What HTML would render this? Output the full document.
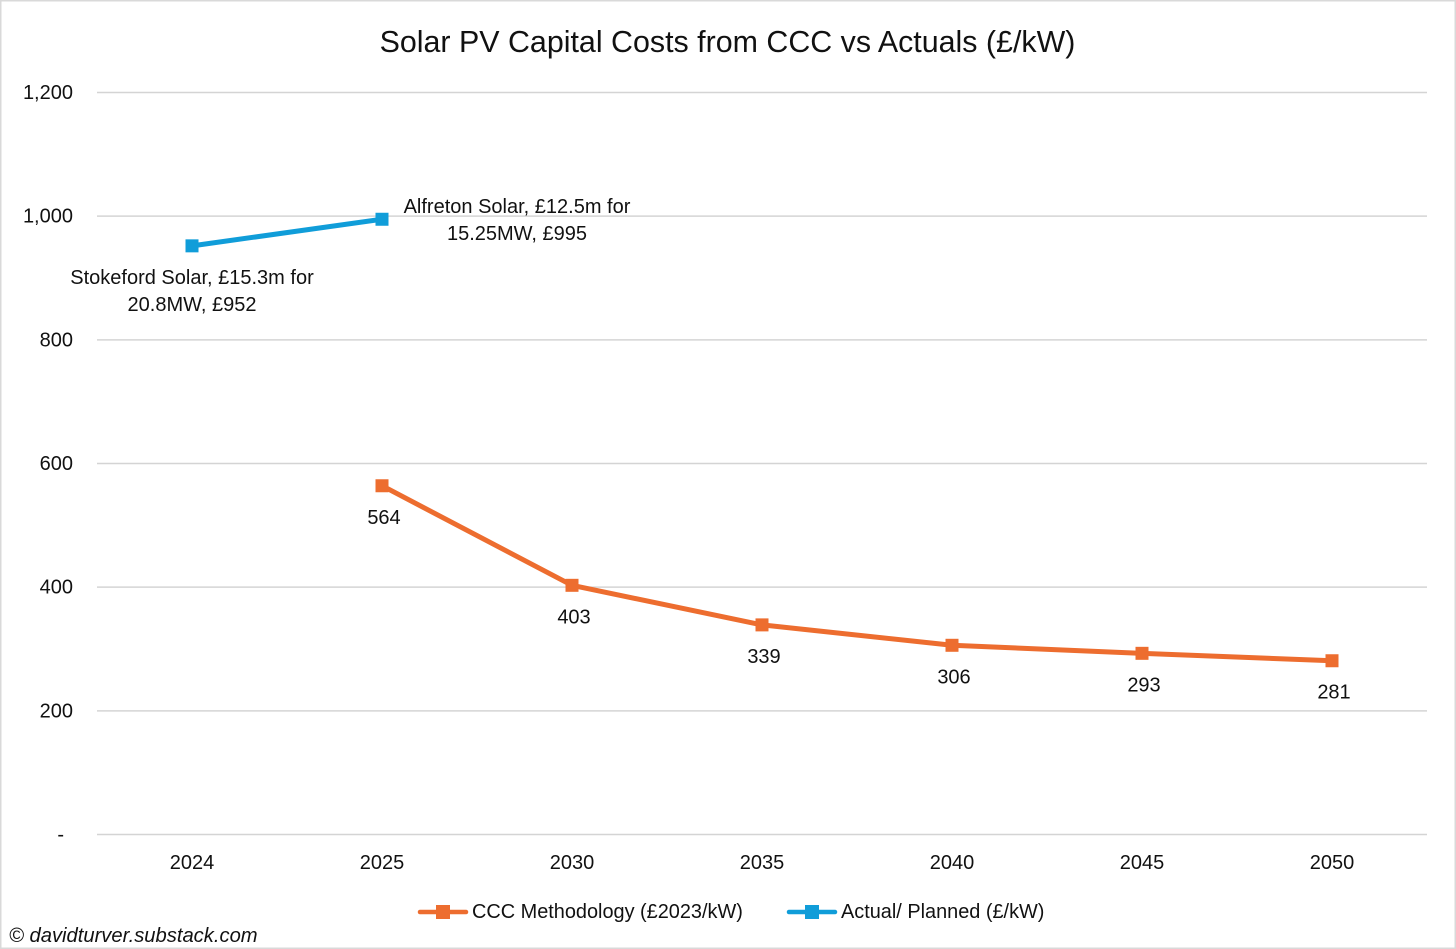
<!DOCTYPE html>
<html lang="en">
<head>
<meta charset="utf-8">
<title>Solar PV Capital Costs from CCC vs Actuals</title>
<style>
html,body{margin:0;padding:0;background:#fff}
#chart{display:block;position:absolute;left:0;top:0}
text{font-family:"Liberation Sans",sans-serif;fill:#111}
</style>
</head>
<body>
<svg id="chart" xmlns="http://www.w3.org/2000/svg" width="1456" height="949" viewBox="0 0 1456 949">
<rect x="0.75" y="0.75" width="1454.5" height="947.5" fill="#fff" stroke="#d9d9d9" stroke-width="1.5"/>
<text x="727.5" y="52" text-anchor="middle" font-size="30.4">Solar PV Capital Costs from CCC vs Actuals (£/kW)</text>
<g id="grid"></g>
<g id="xaxis"></g>
<g id="series"></g>
<g id="labels"></g>
<g>
<g>
<line x1="420" x2="466" y1="912" y2="912" stroke="#ED6D2F" stroke-width="4.5" stroke-linecap="round"/>
<rect x="436" y="905" width="14" height="14" fill="#ED6D2F"/>
<text x="472" y="918" font-size="19.9">CCC Methodology (£2023/kW)</text>
</g>
<g>
<line x1="789" x2="835" y1="912" y2="912" stroke="#109DD9" stroke-width="4.5" stroke-linecap="round"/>
<rect x="805" y="905" width="14" height="14" fill="#109DD9"/>
<text x="841" y="918" font-size="19.9">Actual/ Planned (£/kW)</text>
</g>
</g>
<text x="9" y="942" font-size="20.2" font-style="italic">© davidturver.substack.com</text>
</svg>
<script>
const categories = ['2024', '2025', '2030', '2035', '2040', '2045', '2050'];
const cccValues = [null, 564, 403, 339, 306, 293, 281];
const actualValues = [952, 995, null, null, null, null, null];
const yTicks = [0, 200, 400, 600, 800, 1000, 1200];
const yTickLabels = ['-', '200', '400', '600', '800', '1,000', '1,200'];
const actualLabels = [['Stokeford Solar, £15.3m for', '20.8MW, £952'], ['Alfreton Solar, £12.5m for', '15.25MW, £995']];

const NS = 'http://www.w3.org/2000/svg';
const plotLeft = 97, plotRight = 1427, plotTop = 92.5, plotBottom = 834.5, yMax = 1200;
const x = i => plotLeft + (i + 0.5) * (plotRight - plotLeft) / categories.length;
const y = v => plotBottom - v / yMax * (plotBottom - plotTop);
function make(tag, attrs, parent, content) {
  const el = document.createElementNS(NS, tag);
  for (const k in attrs) el.setAttribute(k, attrs[k]);
  if (content !== undefined) el.textContent = content;
  parent.appendChild(el);
  return el;
}
const grid = document.getElementById('grid');
const xaxis = document.getElementById('xaxis');
const seriesGroup = document.getElementById('series');
const labels = document.getElementById('labels');

yTicks.forEach((t, i) => {
  const line = make('line', {x1: plotLeft, x2: plotRight, y1: y(t), y2: y(t), stroke: '#d4d4d4', 'stroke-width': 1.5}, grid);
  
  
  const labelX = t === 0 ? 64 : 73;
  const label = make('text', {x: labelX, y: y(t) + 6.5, 'text-anchor': 'end', 'font-size': 20}, grid, yTickLabels[i]);
  
  
});
categories.forEach((c, i) => {
  const label = make('text', {x: x(i), y: 869, 'text-anchor': 'middle', 'font-size': 20}, xaxis, c);
  
  
});
function drawSeries(values, color, name) {
  const pts = [];
  values.forEach((v, i) => { if (v !== null) pts.push([x(i), y(v)]); });
  const line = make('polyline', {points: pts.map(p => p.join(',')).join(' '), fill: 'none', stroke: color, 'stroke-width': 5, 'stroke-linejoin': 'round'}, seriesGroup);
  
  
  pts.forEach(p => {
    const m = make('rect', {x: p[0] - 6.5, y: p[1] - 6.5, width: 13, height: 13, fill: color}, seriesGroup);
    
    
  });
}
drawSeries(cccValues, '#ED6D2F', 'ccc-series');
drawSeries(actualValues, '#109DD9', 'actual-series');

cccValues.forEach((v, i) => {
  if (v === null) return;
  const label = make('text', {x: x(i) + 2, y: y(v) + 38, 'text-anchor': 'middle', 'font-size': 20}, labels, String(v));
  
  
});
actualLabels.forEach((lines, i) => {
  const cx = i === 0 ? x(0) : x(1) + 135;
  const top = i === 0 ? y(actualValues[0]) + 38 : y(actualValues[1]) - 6.5;
  lines.forEach((t, j) => {
    const label = make('text', {x: cx, y: top + j * 27, 'text-anchor': 'middle', 'font-size': 20}, labels, t);
    
    
  });
});
</script>
</body>
</html>
